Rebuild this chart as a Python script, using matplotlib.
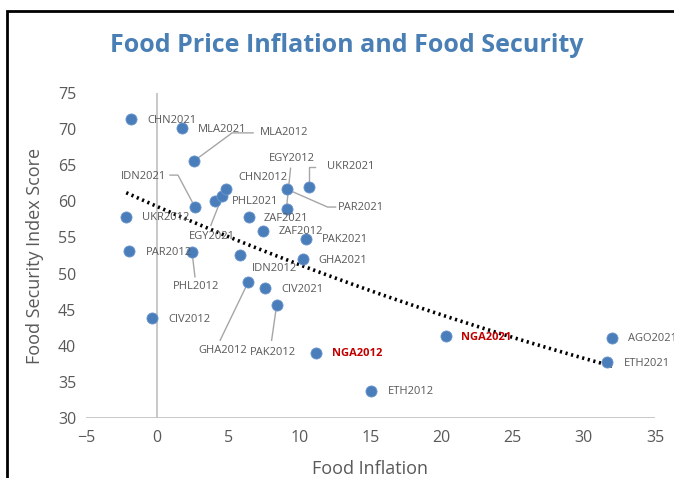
import matplotlib
matplotlib.use("Agg")
import matplotlib.pyplot as plt
import numpy as np
from matplotlib.patches import Rectangle

# data
labels = ["CHN2021", "MLA2021", "MLA2012", "IDN2021", "UKR2012", "PHL2021", "EGY2021",
          "CHN2012", "EGY2012", "PAR2021", "UKR2021", "ZAF2021", "ZAF2012", "PAK2021",
          "GHA2021", "PAR2012", "PHL2012", "IDN2012", "GHA2012", "CIV2021", "PAK2012",
          "CIV2012", "NGA2012", "ETH2012", "NGA2021", "AGO2021", "ETH2021"]
food_inflation = [-1.82, 1.75, 2.6, 2.66, -2.17, 4.06, 4.55,
                  4.84, 9.1, 9.1, 10.65, 6.45, 7.43, 10.44,
                  10.23, -1.96, 2.45, 5.8, 6.4, 7.6, 8.4,
                  -0.35, 11.2, 15.07, 20.3, 32.0, 31.6]
security_score = [71.4, 70.15, 65.6, 59.2, 57.9, 60.0, 60.7,
                  61.7, 58.9, 61.7, 62.0, 57.8, 55.9, 54.8,
                  52.0, 53.1, 53.0, 52.6, 48.8, 48.0, 45.6,
                  43.8, 39.0, 33.7, 41.3, 41.1, 37.7]
highlight = ["NGA2012", "NGA2021"]

# label placement (offset pixels from the point) and leader line paths
label_offsets = {
    "CHN2021": (16, -2), "MLA2021": (16, -1), "MLA2012": (66, 28), "IDN2021": (-74, 31),
    "UKR2012": (16, -1), "PHL2021": (17, 0), "EGY2021": (-33, -40), "CHN2012": (12, 12),
    "EGY2012": (-18, 51), "PAR2021": (51, -18), "UKR2021": (18, 20), "ZAF2021": (15, -1),
    "ZAF2012": (16, -1), "PAK2021": (16, -1), "GHA2021": (16, -1), "PAR2012": (17, -1),
    "PHL2012": (-19, -35), "IDN2012": (12, -14), "GHA2012": (-50, -68), "CIV2021": (16, -1),
    "PAK2012": (-27, -47), "CIV2012": (16, -1), "NGA2012": (16, -1), "ETH2012": (16, 0),
    "NGA2021": (15, -1), "AGO2021": (16, -1), "ETH2021": (17, -1),
}
leaders = {
    "MLA2012": [(0, 0), (38, 28), (59, 28)],
    "IDN2021": [(0, 0), (-17, 32), (-25, 32)],
    "EGY2021": [(-11, -29), (0, -1)],
    "EGY2012": [(4, 41), (0, 2)],
    "PAR2021": [(0, 0), (41, -18), (49, -18)],
    "UKR2021": [(0, 5), (0, 20), (6, 20)],
    "PHL2012": [(0, 0), (3, -25)],
    "GHA2012": [(0, 0), (-28, -58)],
    "PAK2012": [(0, 0), (-5, -35)],
}

W, H = 674, 478
fig = plt.figure(figsize=(W / 100, H / 100), dpi=100)
fig.patches.append(Rectangle((7 / W, -0.1), 1.2, 1 - 11 / H + 0.1, transform=fig.transFigure,
                             fill=False, edgecolor="black", linewidth=2))

ax = fig.add_axes([86 / W, 1 - 418 / H, (655 - 86) / W, (418 - 93) / H])
for s in ax.spines.values():
    s.set_visible(False)
ax.set_xlim(-5, 35)
ax.set_ylim(30, 75)
ax.set_xticks(range(-5, 36, 5))
ax.set_yticks(range(30, 76, 5))
ax.tick_params(length=0, colors="#595959", labelsize=11.5, pad=7)
ax.tick_params(axis="x", pad=9)
ax.axhline(30, color="#bfbfbf", lw=1.2)
ax.axvline(0, color="#bfbfbf", lw=1.2)

# exponential trendline (Excel style) fitted to the data
x = np.array(food_inflation)
y = np.array(security_score)
b, ln_a = np.polyfit(x, np.log(y), 1)
xt = np.linspace(x.min(), x.max(), 100)
ax.plot(xt, np.exp(ln_a + b * xt), color="black", lw=2.6, ls=(0, (0.6, 1.0)), zorder=2)

ax.plot(x, y, "o", color="#4a7ebb", markersize=8, markeredgecolor="#6d95cc",
        markeredgewidth=0.6, zorder=3, clip_on=False)

for lab, xi, yi in zip(labels, food_inflation, security_score):
    dx, dy = label_offsets[lab]
    is_hl = lab in highlight
    ax.annotate(lab, (xi, yi), xytext=(dx, dy), textcoords="offset pixels",
                ha="left", va="center", fontsize=8, family="Open Sans",
                color="#c00000" if is_hl else "#595959",
                fontweight="bold" if is_hl else "normal", zorder=4,
                annotation_clip=False)
    if lab in leaders:
        px, py = ax.transData.transform((xi, yi))
        pts = np.array([(px + u, py + v) for u, v in leaders[lab]])
        dpts = ax.transData.inverted().transform(pts)
        ax.plot(dpts[:, 0], dpts[:, 1], color="#a6a6a6", lw=1, zorder=2, clip_on=False)

ax.set_xlabel("Food Inflation", fontsize=13, color="#595959", family="Open Sans", labelpad=10)
ax.set_ylabel("Food Security Index Score", fontsize=13, color="#595959", family="Open Sans",
              labelpad=10)
for t in ax.get_xticklabels() + ax.get_yticklabels():
    t.set_family("Open Sans")

fig.text(347 / W, 1 - 46 / H, "Food Price Inflation and Food Security", ha="center",
         va="center", fontsize=18, fontweight="bold", color="#4a7fb5", family="Open Sans")

fig.savefig("out.png", dpi=100)
